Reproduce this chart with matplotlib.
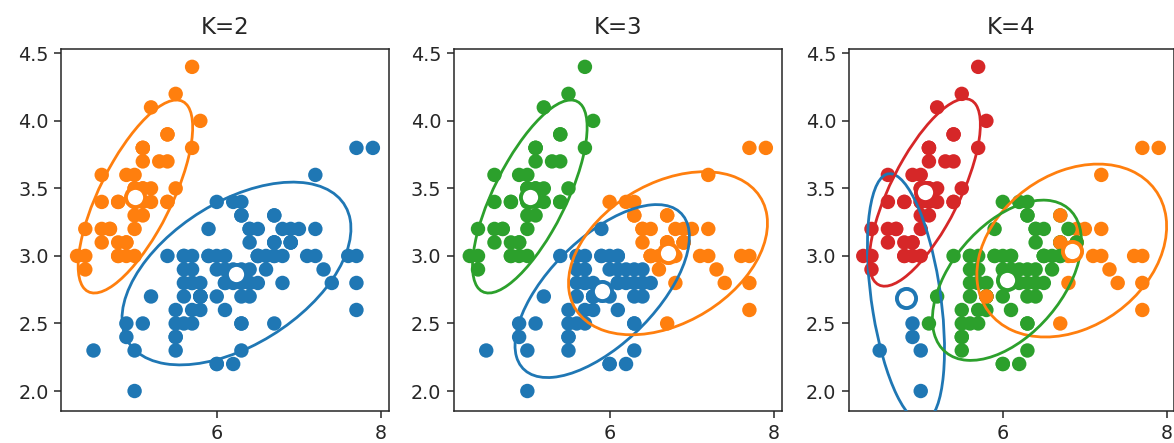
import numpy as np
import matplotlib
matplotlib.use("Agg")
import matplotlib.pyplot as plt
from matplotlib.patches import Ellipse

# iris sepal length / sepal width
sepal_length = [
    5.1, 4.9, 4.7, 4.6, 5.0, 5.4, 4.6, 5.0, 4.4, 4.9, 5.4, 4.8, 4.8, 4.3, 5.8, 5.7, 5.4, 5.1, 5.7, 5.1,
    5.4, 5.1, 4.6, 5.1, 4.8, 5.0, 5.0, 5.2, 5.2, 4.7, 4.8, 5.4, 5.2, 5.5, 4.9, 5.0, 5.5, 4.9, 4.4, 5.1,
    5.0, 4.5, 4.4, 5.0, 5.1, 4.8, 5.1, 4.6, 5.3, 5.0,
    7.0, 6.4, 6.9, 5.5, 6.5, 5.7, 6.3, 4.9, 6.6, 5.2, 5.0, 5.9, 6.0, 6.1, 5.6, 6.7, 5.6, 5.8, 6.2, 5.6,
    5.9, 6.1, 6.3, 6.1, 6.4, 6.6, 6.8, 6.7, 6.0, 5.7, 5.5, 5.5, 5.8, 6.0, 5.4, 6.0, 6.7, 6.3, 5.6, 5.5,
    5.5, 6.1, 5.8, 5.0, 5.6, 5.7, 5.7, 6.2, 5.1, 5.7,
    6.3, 5.8, 7.1, 6.3, 6.5, 7.6, 4.9, 7.3, 6.7, 7.2, 6.5, 6.4, 6.8, 5.7, 5.8, 6.4, 6.5, 7.7, 7.7, 6.0,
    6.9, 5.6, 7.7, 6.3, 6.7, 7.2, 6.2, 6.1, 6.4, 7.2, 7.4, 7.9, 6.4, 6.3, 6.1, 7.7, 6.3, 6.4, 6.0, 6.9,
    6.7, 6.9, 5.8, 6.8, 6.7, 6.7, 6.3, 6.5, 6.2, 5.9,
]
sepal_width = [
    3.5, 3.0, 3.2, 3.1, 3.6, 3.9, 3.4, 3.4, 2.9, 3.1, 3.7, 3.4, 3.0, 3.0, 4.0, 4.4, 3.9, 3.5, 3.8, 3.8,
    3.4, 3.7, 3.6, 3.3, 3.4, 3.0, 3.4, 3.5, 3.4, 3.2, 3.1, 3.4, 4.1, 4.2, 3.1, 3.2, 3.5, 3.6, 3.0, 3.4,
    3.5, 2.3, 3.2, 3.5, 3.8, 3.0, 3.8, 3.2, 3.7, 3.3,
    3.2, 3.2, 3.1, 2.3, 2.8, 2.8, 3.3, 2.4, 2.9, 2.7, 2.0, 3.0, 2.2, 2.9, 2.9, 3.1, 3.0, 2.7, 2.2, 2.5,
    3.2, 2.8, 2.5, 2.8, 2.9, 3.0, 2.8, 3.0, 2.9, 2.6, 2.4, 2.4, 2.7, 2.7, 3.0, 3.4, 3.1, 2.3, 3.0, 2.5,
    2.6, 3.0, 2.6, 2.3, 2.7, 3.0, 2.9, 2.9, 2.5, 2.8,
    3.3, 2.7, 3.0, 2.9, 3.0, 3.0, 2.5, 2.9, 2.5, 3.6, 3.2, 2.7, 3.0, 2.5, 2.8, 3.2, 3.0, 3.8, 2.6, 2.2,
    3.2, 2.8, 2.8, 2.7, 3.3, 3.2, 2.8, 3.0, 2.8, 3.0, 2.8, 3.8, 2.8, 2.8, 2.6, 3.0, 3.4, 3.1, 3.0, 3.1,
    3.1, 3.1, 2.7, 3.2, 3.3, 3.0, 2.5, 3.0, 3.4, 3.0,
]

# cluster label of every point
labels_k2 = ("11111111111111111111111111111111111111111011111111"
             "00000000000000000000000000000000000000000000000000"
             "00000000000000000000000000000000000000000000000000")
labels_k3 = ("22222222222222222222222222222222222222222022222222"
             "11100010100000010000000001110000000110000000000000"
             "10101101111010011110101011000111000111011101110110")
labels_k4 = ("33333333333333333333333333333333333333333033333333"
             "12122220220222222222222222122222222222222220222222"
             "22122101112212222112121221222111222122211212122222")

# component means
means_k2 = [(6.24, 2.87), (5.01, 3.44)]
means_k3 = [(5.91, 2.74), (6.71, 3.02), (5.03, 3.44)]
means_k4 = [(4.82, 2.69), (6.84, 3.04), (6.05, 2.82), (5.05, 3.47)]

# ellipse width, height, angle per component
ell_k2 = [(2.88, 1.14, 16), (1.85, 0.75, 46)]
ell_k3 = [(2.30, 0.92, 25), (2.47, 1.10, 13), (1.85, 0.75, 46)]
ell_k4 = [(1.89, 0.83, 105), (2.35, 1.21, 12), (1.94, 0.97, 24), (1.80, 0.72, 46)]

titles = ["K=2", "K=3", "K=4"]
colors = ["#1f77b4", "#ff7f0e", "#2ca02c", "#d62728"]

x = np.array(sepal_length)
y = np.array(sepal_width)

fig = plt.figure(figsize=(11.74, 4.43), dpi=100)
boxes = [
    [61.3 / 1174, 32 / 443, 328 / 1174, 361.7 / 443],
    [454 / 1174, 32 / 443, 328.3 / 1174, 361.7 / 443],
    [849 / 1174, 32 / 443, 324.5 / 1174, 361.7 / 443],
]
xlims = [(4.108, 8.10), (4.108, 8.10), (4.126, 8.08)]

runs = [(labels_k2, means_k2, ell_k2), (labels_k3, means_k3, ell_k3), (labels_k4, means_k4, ell_k4)]

for i, (labs, means, ells) in enumerate(runs):
    ax = fig.add_axes(boxes[i])
    lab = np.array([int(c) for c in labs])
    ax.scatter(x, y, c=[colors[k] for k in lab], s=108, linewidths=0, zorder=2)
    for k, (m, e) in enumerate(zip(means, ells)):
        ax.add_patch(Ellipse(m, e[0], e[1], angle=e[2], fill=False,
                             edgecolor=colors[k], lw=2.0, zorder=3))
        ax.scatter([m[0]], [m[1]], s=190, facecolor="white", edgecolor=colors[k],
                   linewidths=2.8, zorder=4)
    ax.set_xlim(*xlims[i])
    ax.set_ylim(1.852, 4.53)
    ax.set_xticks([6, 8])
    ax.set_yticks([2.0, 2.5, 3.0, 3.5, 4.0, 4.5])
    ax.tick_params(labelsize=13.8, length=4.7, width=1.1, pad=4.5, colors="#262626")
    for sp in ax.spines.values():
        sp.set_linewidth(1.1)
        sp.set_color("#262626")
    ax.set_title(titles[i], fontsize=16.5, pad=11, color="#262626")

fig.savefig("out.png", dpi=100)
